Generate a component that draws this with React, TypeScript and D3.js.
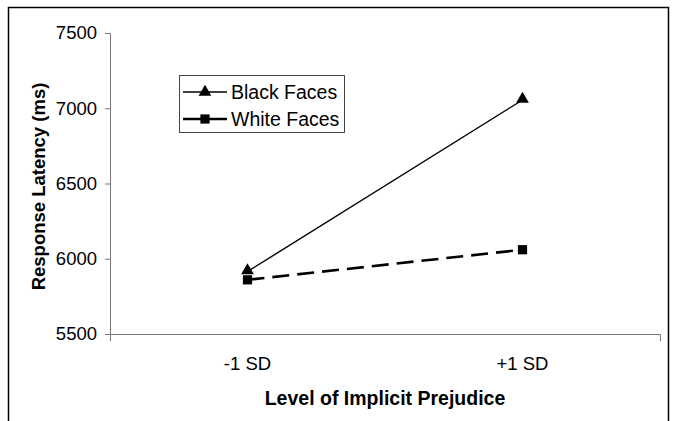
import React, { useEffect, useRef } from 'react'
import * as d3 from 'd3'

const levels = ['-1 SD', '+1 SD']
const blackFaces = [5915, 7055]
const whiteFaces = [5860, 6060]
const yTicks = [5500, 6000, 6500, 7000, 7500]

export default function App(): React.ReactElement {
  const chartRef = useRef<HTMLDivElement>(null)

  useEffect(() => {
    const width = 673
    const height = 421
    const marginLeft = 110
    const marginRight = 13
    const marginTop = 33
    const axisY = 334
    const font = '"Liberation Sans", Arial, sans-serif'

    const x = d3
      .scaleBand()
      .domain(levels)
      .range([marginLeft, width - marginRight])

    const y = d3.scaleLinear().domain([5500, 7500]).range([axisY, marginTop])

    d3.select(chartRef.current).select('svg').remove()

    const svg = d3
      .select(chartRef.current)
      .append('svg')
      .attr('width', width)
      .attr('height', height)
      .attr('viewBox', `0 0 ${width} ${height}`)
      .style('font-family', font)

    svg.append('rect').attr('width', width).attr('height', height).attr('fill', 'white')

    // outer frame (bottom is cut off)
    svg
      .append('path')
      .attr('d', `M8.5,${height + 2}V7.5H668.5V${height + 2}`)
      .attr('fill', 'none')
      .attr('stroke', '#000')
      .attr('stroke-width', 1.5)

    // y axis
    const yAxis = svg
      .append('g')
      .attr('transform', `translate(${marginLeft},0)`)
      .call(
        d3
          .axisLeft(y)
          .tickValues(yTicks)
          .tickSize(5)
          .tickPadding(8)
          .tickFormat(d3.format('d'))
      )
    yAxis.select('.domain').attr('stroke', '#777')
    yAxis.selectAll('.tick line').attr('stroke', '#777')
    yAxis
      .selectAll('.tick text')
      .attr('font-size', 18.5)
      .attr('font-family', font)
      .attr('fill', '#000')

    // x axis
    const xAxis = svg
      .append('g')
      .attr('transform', `translate(0,${axisY})`)
      .call(d3.axisBottom(x).tickSize(0).tickPadding(23).tickSizeOuter(7))
    xAxis.select('.domain').attr('stroke', '#777')
    xAxis
      .selectAll('.tick text')
      .attr('font-size', 18.5)
      .attr('font-family', font)
      .attr('fill', '#000')

    // axis titles
    svg
      .append('text')
      .attr('x', (marginLeft + width - marginRight) / 2)
      .attr('y', 405)
      .attr('text-anchor', 'middle')
      .attr('font-size', 19.5)
      .attr('font-weight', 'bold')
      .text('Level of Implicit Prejudice')

    svg
      .append('text')
      .attr('transform', `translate(45,${(marginTop + axisY) / 2 + 3}) rotate(-90)`)
      .attr('text-anchor', 'middle')
      .attr('font-size', 18.5)
      .attr('font-weight', 'bold')
      .text('Response Latency (ms)')

    const cx = (d: string) => x(d)! + x.bandwidth() / 2
    const line = d3
      .line<number>()
      .x((_, i) => cx(levels[i]))
      .y((d) => y(d))

    svg
      .append('path')
      .datum(whiteFaces)
      .attr('d', line)
      .attr('fill', 'none')
      .attr('stroke', '#000')
      .attr('stroke-width', 2.6)
      .attr('stroke-dasharray', '17,8')

    svg
      .append('path')
      .datum(blackFaces)
      .attr('d', line)
      .attr('fill', 'none')
      .attr('stroke', '#000')
      .attr('stroke-width', 1.4)

    const tri = d3.symbol().type(d3.symbolTriangle).size(70)
    const sq = d3.symbol().type(d3.symbolSquare).size(85)

    svg
      .append('g')
      .selectAll('path')
      .data(whiteFaces)
      .join('path')
      .attr('transform', (d, i) => `translate(${cx(levels[i])},${y(d)})`)
      .attr('d', sq)
      .attr('fill', '#000')

    svg
      .append('g')
      .selectAll('path')
      .data(blackFaces)
      .join('path')
      .attr('transform', (d, i) => `translate(${cx(levels[i])},${y(d) - 1})`)
      .attr('d', tri)
      .attr('fill', '#000')

    // legend
    const legend = svg.append('g').attr('transform', 'translate(179,75)')
    legend
      .append('rect')
      .attr('x', 0.5)
      .attr('y', 0.5)
      .attr('width', 165)
      .attr('height', 57)
      .attr('fill', 'white')
      .attr('stroke', '#444')
      .attr('stroke-width', 1)

    const items = [
      { name: 'Black Faces', symbol: tri, width: 1.4 },
      { name: 'White Faces', symbol: sq, width: 2.6 },
    ]
    items.forEach((it, i) => {
      const ly = 17 + i * 27
      legend
        .append('line')
        .attr('x1', 4)
        .attr('x2', 48)
        .attr('y1', ly)
        .attr('y2', ly)
        .attr('stroke', '#000')
        .attr('stroke-width', it.width)
      legend
        .append('path')
        .attr('transform', `translate(26,${ly})`)
        .attr('d', it.symbol)
        .attr('fill', '#000')
      legend
        .append('text')
        .attr('x', 52)
        .attr('y', ly)
        .attr('dy', '0.35em')
        .attr('font-size', 19.5)
        .text(it.name)
    })
  }, [])

  return (
    <div
      ref={chartRef}
      style={{ position: 'absolute', left: 0, top: 0, lineHeight: 0 }}
    ></div>
  )
}
